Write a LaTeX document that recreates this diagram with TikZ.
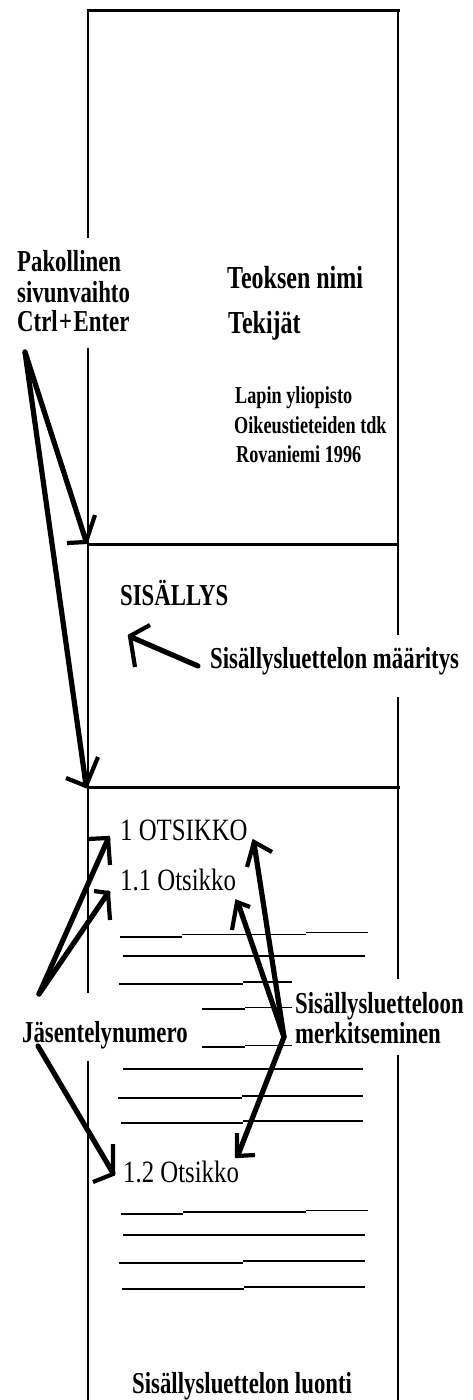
\documentclass[tikz,border=0pt]{standalone}
\usepackage{fontspec}
\setmainfont{Liberation Serif}[FakeStretch=0.75]
\newfontfamily\headfont{Liberation Serif}[FakeStretch=0.8]
\begin{document}
\begin{tikzpicture}[x=1pt,y=-1pt,
  edge/.style={line width=2pt},
  rule/.style={line width=3pt},
  tline/.style={line width=1.2pt},
  shaft/.style={line width=5.2pt, line cap=round},
  vhead/.style={line width=4.2pt, line join=miter, line cap=butt},
  lbl/.style={font=\fontsize{30.4}{32}\selectfont\bfseries, inner sep=0pt, anchor=base west},
  big/.style={font=\fontsize{32}{34}\selectfont\bfseries, inner sep=0pt, anchor=base west},
  small/.style={font=\fontsize{24.3}{26}\selectfont\bfseries, inner sep=0pt, anchor=base west},
  heading/.style={font=\headfont\fontsize{31}{33}\selectfont, inner sep=0pt, anchor=base west}]
\useasboundingbox (0,0) rectangle (472,1400);

% page outline
\draw[line width=3.5pt] (86.5,10.5) -- (399.5,10.5);
\draw[edge] (88,9) -- (88,238);
\draw[edge] (88,348) -- (88,993);
\draw[edge] (88,1061) -- (88,1400);
\draw[edge] (398,9) -- (398,635);
\draw[edge] (398,697) -- (398,979);
\draw[edge] (398,1055) -- (398,1400);
% page breaks
\draw[rule] (87,544) -- (399,544);
\draw[rule] (87,787) -- (400,787);

% title page texts
\node[lbl] (pak1) at (17,271) {Pakollinen};
\node[lbl] (pak2) at (17,302) {sivunvaihto};
\node[lbl] (pak3) at (17,331) {Ctrl{\kern1.5pt}+{\kern1.5pt}Enter};
\node[big] (title) at (227,288) {Teoksen nimi};
\node[big] (auth) at (228,333) {Tekijät};
\node[small] (uni) at (235,403) {Lapin yliopisto};
\node[small] (fac) at (234,433) {Oikeustieteiden tdk};
\node[small] (city) at (236,462) {Rovaniemi 1996};

% contents page
\node[lbl] (toc) at (120,605) {SISÄLLYS};
\node[lbl] (tocdef) at (210,668) {Sisällysluettelon määritys};

% body page
\node[heading] (h1) at (120,840) {1 OTSIKKO};
\node[heading] (h11) at (120,890) {1.1 Otsikko};
\node[heading] (h12) at (123,1182) {1.2 Otsikko};
\node[lbl] (num) at (22,1042) {Jäsentelynumero};
\node[lbl] (mark1) at (295,1013) {Sisällysluetteloon};
\node[lbl] (mark2) at (295,1043) {merkitseminen};
\node[lbl] (create) at (132,1393) {Sisällysluettelon luonti};

% body text lines
\draw[tline] (120,937) -- (182,937) (182,934.5) -- (306,934.5) (306,932.5) -- (368,932.5);
\draw[tline] (123,956) -- (365,956);
\draw[tline] (119,984) -- (243,984) (243,982) -- (292,982);
\draw[tline] (202,1009) -- (245,1009) (245,1007.5) -- (292,1007.5);
\draw[tline] (202,1047) -- (245,1047) (245,1045.5) -- (292,1045.5);
\draw[tline] (123,1069) -- (363,1069);
\draw[tline] (118,1098) -- (242,1098) (242,1096) -- (363,1096);
\draw[tline] (121,1123) -- (243,1123) (243,1121) -- (363,1121);

\draw[tline] (121,1214) -- (183,1214) (183,1212) -- (306,1212) (306,1210.5) -- (368,1210.5);
\draw[tline] (123,1235) -- (365,1235);
\draw[tline] (119,1263) -- (243,1263) (243,1261) -- (365,1261);
\draw[tline] (122,1289) -- (244,1289) (244,1287) -- (365,1287);

% arrow ends
\coordinate (brk) at (25,352);
\coordinate (brk1) at (86,541);
\coordinate (brk2) at (86,785);
\coordinate (defs) at (198,666);
\coordinate (deft) at (131,637);
\coordinate (nums) at (39,994);
\coordinate (numt1) at (108,839);
\coordinate (numt2) at (108,893);
\coordinate (numb) at (38,1046);
\coordinate (numt3) at (113,1173);
\coordinate (marks) at (284,1037);
\coordinate (markt1) at (254,843);
\coordinate (markt2) at (238,903);
\coordinate (markt3) at (238,1155);

% page break arrows
\draw[shaft] (brk) -- (brk1);
\draw[vhead] (67,543) -- (86,542) -- (95,515);
\draw[shaft] (brk) -- (brk2);
\draw[vhead] (66,778) -- (86,786) -- (98,757);

% contents field arrow
\draw[shaft] (defs) -- (deft);
\draw[vhead] (150,625) -- (130,636) -- (135,667);

% numbering arrows
\draw[shaft] (nums) -- (numt1);
\draw[vhead] (88,839) -- (108,838) -- (110,865);
\draw[shaft] (nums) -- (numt2);
\draw[vhead] (94,891) -- (108,893) -- (110,920);
\draw[shaft] (numb) -- (numt3);
\draw[vhead] (113,1144) -- (113,1174) -- (93,1182);

% marking arrows
\draw[shaft] (marks) -- (markt1);
\draw[vhead] (272,852) -- (254,842) -- (247,867);
\draw[shaft] (marks) -- (markt2);
\draw[vhead] (250,907) -- (237,902) -- (232,930);
\draw[shaft] (marks) -- (markt3);
\draw[vhead] (237,1133) -- (237,1156) -- (255,1155);
\end{tikzpicture}
\end{document}
